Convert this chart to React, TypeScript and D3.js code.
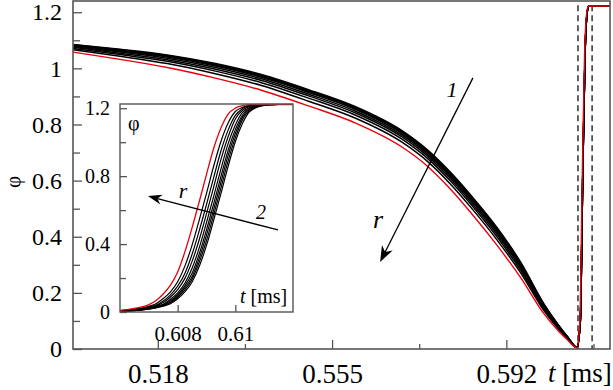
import React, { useEffect, useRef } from 'react';
import * as d3 from 'd3';

// main panel: slow decay of phi, then a sharp jump
const mainT = [0.500, 0.510, 0.520, 0.530, 0.540, 0.550, 0.560, 0.570, 0.575, 0.580, 0.585, 0.590, 0.595, 0.600, 0.603, 0.605, 0.607];
const mainRed = [1.058, 1.032, 1.003, 0.966, 0.922, 0.866, 0.805, 0.718, 0.655, 0.572, 0.475, 0.370, 0.255, 0.125, 0.065, 0.032, 0.004];
const mainBlack = [
  [1.085, 1.068, 1.048, 1.018, 0.978, 0.924, 0.863, 0.776, 0.713, 0.632, 0.537, 0.433, 0.310, 0.160, 0.087, 0.044, 0.006],
  [1.084, 1.066, 1.046, 1.015, 0.975, 0.921, 0.860, 0.773, 0.710, 0.629, 0.534, 0.430, 0.307, 0.158, 0.086, 0.043, 0.006],
  [1.082, 1.064, 1.043, 1.012, 0.972, 0.918, 0.857, 0.770, 0.707, 0.625, 0.530, 0.426, 0.304, 0.156, 0.085, 0.043, 0.006],
  [1.080, 1.062, 1.040, 1.009, 0.968, 0.914, 0.853, 0.766, 0.703, 0.621, 0.526, 0.422, 0.300, 0.154, 0.083, 0.042, 0.006],
  [1.078, 1.058, 1.036, 1.004, 0.963, 0.908, 0.847, 0.760, 0.697, 0.616, 0.520, 0.416, 0.295, 0.151, 0.081, 0.041, 0.005],
  [1.075, 1.054, 1.031, 0.998, 0.957, 0.902, 0.841, 0.754, 0.691, 0.609, 0.513, 0.409, 0.289, 0.147, 0.079, 0.039, 0.005],
  [1.071, 1.049, 1.025, 0.991, 0.949, 0.894, 0.833, 0.746, 0.683, 0.601, 0.505, 0.400, 0.281, 0.142, 0.076, 0.038, 0.005],
  [1.066, 1.043, 1.017, 0.982, 0.939, 0.883, 0.822, 0.735, 0.672, 0.590, 0.494, 0.389, 0.272, 0.136, 0.072, 0.036, 0.005],
];
const riseRedT = [0.6076, 0.6081, 0.6086, 0.6090, 0.6094, 0.614];
const riseBlackT = [0.6077, 0.6082, 0.6087, 0.6091, 0.6095, 0.614];
const riseValues = [0.10, 0.60, 1.05, 1.19, 1.222, 1.222];
const dashedT = [0.6072, 0.6102];

const mainXTicks = [0.518, 0.555, 0.592];
const mainXMinor = [0.5365, 0.5735, 0.6105];
const mainYTicks = [0, 0.2, 0.4, 0.6, 0.8, 1, 1.2];
const mainYLabels = ['0', '0.2', '0.4', '0.6', '0.8', '1', '1.2'];
const mainYMinor = [0.1, 0.3, 0.5, 0.7, 0.9, 1.1];

// inset: zoom on the jump
const insetT = [0.6060, 0.6065, 0.6070, 0.60725, 0.6075, 0.60775, 0.6080, 0.60825, 0.6085, 0.60875, 0.6090, 0.60925, 0.6095, 0.60975, 0.6100, 0.61025, 0.6105, 0.6110, 0.6115, 0.6120];
const insetRed = [0.010, 0.021, 0.043, 0.068, 0.106, 0.158, 0.236, 0.354, 0.497, 0.651, 0.811, 0.964, 1.083, 1.165, 1.201, 1.215, 1.221, 1.222, 1.222, 1.222];
const insetBlack = [
  [0.008, 0.017, 0.034, 0.049, 0.079, 0.119, 0.178, 0.270, 0.394, 0.543, 0.699, 0.860, 1.004, 1.113, 1.181, 1.205, 1.217, 1.222, 1.222, 1.222],
  [0.007, 0.015, 0.029, 0.041, 0.065, 0.101, 0.152, 0.227, 0.340, 0.480, 0.633, 0.793, 0.948, 1.071, 1.158, 1.198, 1.215, 1.222, 1.222, 1.222],
  [0.006, 0.013, 0.026, 0.037, 0.056, 0.088, 0.132, 0.198, 0.298, 0.427, 0.579, 0.737, 0.897, 1.032, 1.137, 1.188, 1.210, 1.222, 1.222, 1.222],
  [0.005, 0.011, 0.023, 0.033, 0.046, 0.075, 0.113, 0.169, 0.258, 0.379, 0.527, 0.681, 0.842, 0.992, 1.102, 1.176, 1.204, 1.221, 1.222, 1.222],
  [0.004, 0.010, 0.020, 0.030, 0.042, 0.066, 0.102, 0.154, 0.228, 0.343, 0.484, 0.638, 0.798, 0.952, 1.074, 1.160, 1.199, 1.220, 1.222, 1.222],
  [0.004, 0.009, 0.019, 0.028, 0.039, 0.059, 0.094, 0.142, 0.208, 0.317, 0.453, 0.604, 0.764, 0.922, 1.051, 1.148, 1.194, 1.219, 1.222, 1.222],
  [0.004, 0.008, 0.018, 0.026, 0.037, 0.055, 0.087, 0.130, 0.193, 0.294, 0.421, 0.573, 0.730, 0.890, 1.027, 1.133, 1.187, 1.218, 1.222, 1.222],
  [0.003, 0.008, 0.017, 0.024, 0.034, 0.049, 0.078, 0.118, 0.177, 0.269, 0.392, 0.541, 0.697, 0.858, 1.003, 1.111, 1.181, 1.217, 1.222, 1.222],
];
const insetXTicks = [0.608, 0.61];
const insetXLabels = ['0.608', '0.61'];
const insetYTicks = [0, 0.4, 0.8, 1.2];
const insetYLabels = ['0', '0.4', '0.8', '1.2'];
const insetYMinor = [0.2, 0.6, 1.0];

// arrows in data units [t, phi]
const mainArrow = [[0.5849, 0.966], [0.5652, 0.31]];
const insetArrow = [[0.61148, 0.483], [0.60697, 0.683]];

const FONT = "'Liberation Serif', 'Times New Roman', Times, serif";
const AXIS = '#555';

function arrow(g, p0, p1, head, half) {
  const dx = p1[0] - p0[0], dy = p1[1] - p0[1];
  const len = Math.sqrt(dx * dx + dy * dy);
  const ux = dx / len, uy = dy / len, nx = -uy, ny = ux;
  const bx = p1[0] - ux * head, by = p1[1] - uy * head;
  const nxp = p1[0] - ux * head * 0.7, nyp = p1[1] - uy * head * 0.7;
  g.append('line').attr('x1', p0[0]).attr('y1', p0[1]).attr('x2', nxp).attr('y2', nyp)
    .attr('stroke', 'black').attr('stroke-width', 1.3);
  g.append('path')
    .attr('d', `M${p1[0]},${p1[1]}L${bx + nx * half},${by + ny * half}L${nxp},${nyp}L${bx - nx * half},${by - ny * half}Z`)
    .attr('fill', 'black');
}

export default function App() {
  const ref = useRef(null);

  useEffect(() => {
    const svg = d3.select(ref.current);
    svg.selectAll('*').remove();

    const x = d3.scaleLinear().domain([0.5, 0.614]).range([73, 610]);
    const y = d3.scaleLinear().domain([0, 1.24]).range([349, 1]);

    svg.append('clipPath').attr('id', 'mainClip')
      .append('rect').attr('x', 73).attr('y', 1).attr('width', 537).attr('height', 348);

    const plot = svg.append('g').attr('clip-path', 'url(#mainClip)');

    plot.selectAll('line.dash').data(dashedT).join('line')
      .attr('class', 'dash')
      .attr('x1', d => x(d)).attr('x2', d => x(d))
      .attr('y1', y(1.225)).attr('y2', y(0))
      .attr('stroke', '#222').attr('stroke-width', 1.4).attr('stroke-dasharray', '6,4');

    const line = d3.line().x(d => x(d[0])).y(d => y(d[1])).curve(d3.curveMonotoneX);
    const pts = (vals, riseT) => mainT.map((t, i) => [t, vals[i]]).concat(riseT.map((t, i) => [t, riseValues[i]]));

    mainBlack.forEach(vals => {
      plot.append('path').attr('d', line(pts(vals, riseBlackT)))
        .attr('fill', 'none').attr('stroke', 'black').attr('stroke-width', 1.5);
    });
    plot.append('path').attr('d', line(pts(mainRed, riseRedT)))
      .attr('fill', 'none').attr('stroke', '#e8000b').attr('stroke-width', 1.4);

    // main axes
    const yAxis = svg.append('g').attr('transform', 'translate(73,0)')
      .call(d3.axisLeft(y).tickValues(mainYTicks).tickFormat((d, i) => mainYLabels[i]).tickSize(-9).tickPadding(11));
    yAxis.call(g => g.select('.domain').remove());
    svg.append('g').attr('transform', 'translate(73,0)')
      .call(d3.axisLeft(y).tickValues(mainYMinor).tickFormat(() => '').tickSize(-7))
      .call(g => g.select('.domain').remove());

    const xAxis = svg.append('g').attr('transform', 'translate(0,349)')
      .call(d3.axisBottom(x).tickValues(mainXTicks).tickFormat(d3.format('.3f')).tickSize(-9).tickPadding(15));
    xAxis.call(g => g.select('.domain').remove());
    svg.append('g').attr('transform', 'translate(0,349)')
      .call(d3.axisBottom(x).tickValues(mainXMinor).tickFormat(() => '').tickSize(-5))
      .call(g => g.select('.domain').remove());

    svg.selectAll('.tick line').attr('stroke', AXIS).attr('stroke-width', 1.3);
    yAxis.attr('font-family', null).selectAll('text').style('font-family', FONT).attr('font-size', 24).attr('fill', 'black');
    xAxis.attr('font-family', null).selectAll('text').style('font-family', FONT).attr('font-size', 27).attr('fill', 'black');

    svg.append('rect').attr('x', 73).attr('y', 1).attr('width', 537).attr('height', 348)
      .attr('fill', 'none').attr('stroke', AXIS).attr('stroke-width', 1.6);

    const xl = svg.append('text').attr('x', 548).attr('y', 382)
      .style('font-family', FONT).attr('font-size', 27);
    xl.append('tspan').attr('font-style', 'italic').text('t');
    xl.append('tspan').text(' [ms]');

    svg.append('text').attr('transform', 'translate(20,182) rotate(-90)')
      .attr('text-anchor', 'middle').style('font-family', FONT).attr('font-size', 21).text('φ');

    const ann = svg.append('g');
    arrow(ann, [x(mainArrow[0][0]), y(mainArrow[0][1])], [x(mainArrow[1][0]), y(mainArrow[1][1])], 16, 6);
    ann.append('text').attr('x', 452).attr('y', 97).attr('text-anchor', 'middle')
      .style('font-family', FONT).attr('font-style', 'italic').attr('font-size', 22).text('1');
    ann.append('text').attr('x', 378).attr('y', 228).attr('text-anchor', 'middle')
      .style('font-family', FONT).attr('font-style', 'italic').attr('font-size', 26).text('r');

    // inset
    const xi = d3.scaleLinear().domain([0.606, 0.612]).range([120, 293]);
    const yi = d3.scaleLinear().domain([0, 1.225]).range([312, 104]);

    svg.append('rect').attr('x', 120).attr('y', 104).attr('width', 173).attr('height', 208)
      .attr('fill', 'white').attr('stroke', 'none');
    svg.append('clipPath').attr('id', 'insetClip')
      .append('rect').attr('x', 120).attr('y', 103).attr('width', 173).attr('height', 209);
    const ip = svg.append('g').attr('clip-path', 'url(#insetClip)');
    const iline = d3.line().x(d => xi(d[0])).y(d => yi(d[1])).curve(d3.curveMonotoneX);
    insetBlack.forEach(vals => {
      ip.append('path').attr('d', iline(insetT.map((t, i) => [t, vals[i]])))
        .attr('fill', 'none').attr('stroke', 'black').attr('stroke-width', 1.2);
    });
    ip.append('path').attr('d', iline(insetT.map((t, i) => [t, insetRed[i]])))
      .attr('fill', 'none').attr('stroke', '#e8000b').attr('stroke-width', 1.3);

    const iy = svg.append('g').attr('transform', 'translate(120,0)')
      .call(d3.axisLeft(yi).tickValues(insetYTicks).tickFormat((d, i) => insetYLabels[i]).tickSize(-7).tickPadding(10));
    iy.call(g => g.select('.domain').remove());
    const iyMinor = svg.append('g').attr('transform', 'translate(120,0)')
      .call(d3.axisLeft(yi).tickValues(insetYMinor).tickFormat(() => '').tickSize(-6));
    iyMinor.call(g => g.select('.domain').remove());
    const ix = svg.append('g').attr('transform', 'translate(0,312)')
      .call(d3.axisBottom(xi).tickValues(insetXTicks).tickFormat((d, i) => insetXLabels[i]).tickSize(-7).tickPadding(14));
    ix.call(g => g.select('.domain').remove());
    [iy, iyMinor, ix].forEach(g => g.selectAll('.tick line').attr('stroke', AXIS).attr('stroke-width', 1.3));
    iy.attr('font-family', null).selectAll('text').style('font-family', FONT).attr('font-size', 20).attr('fill', 'black');
    ix.attr('font-family', null).selectAll('text').style('font-family', FONT).attr('font-size', 21).attr('fill', 'black');

    svg.append('rect').attr('x', 120).attr('y', 104).attr('width', 173).attr('height', 208)
      .attr('fill', 'none').attr('stroke', AXIS).attr('stroke-width', 1.4);

    svg.append('text').attr('x', 128).attr('y', 130)
      .style('font-family', FONT).attr('font-size', 20).text('φ');
    const it = svg.append('text').attr('x', 240).attr('y', 303)
      .style('font-family', FONT).attr('font-size', 20);
    it.append('tspan').attr('font-style', 'italic').text('t');
    it.append('tspan').text(' [ms]');

    arrow(svg.append('g'), [xi(insetArrow[0][0]), yi(insetArrow[0][1])], [xi(insetArrow[1][0]), yi(insetArrow[1][1])], 14, 5);
    svg.append('text').attr('x', 183).attr('y', 198).attr('text-anchor', 'middle')
      .style('font-family', FONT).attr('font-style', 'italic').attr('font-size', 22).text('r');
    svg.append('text').attr('x', 261).attr('y', 219).attr('text-anchor', 'middle')
      .style('font-family', FONT).attr('font-style', 'italic').attr('font-size', 20).text('2');
  }, []);

  return (
    <svg ref={ref} width={613} height={390}
      style={{ position: 'absolute', left: 0, top: 0, background: 'white' }} />
  );
}
